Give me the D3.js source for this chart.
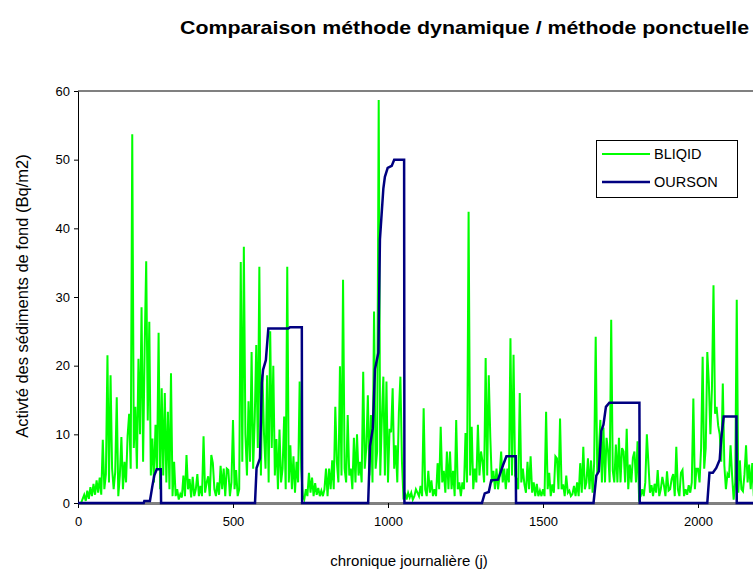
<!DOCTYPE html>
<html>
<head>
<meta charset="utf-8">
<script src="https://cdn.jsdelivr.net/npm/d3@7"></script>
<style>
  html, body { margin: 0; padding: 0; background: #fff; overflow: hidden; }
  text { font-family: "Liberation Sans", Arial, sans-serif; }
</style>
</head>
<body>
<svg id="chart" width="753" height="570"></svg>
<script>
// ---------- data ----------
const titleText = "Comparaison méthode dynamique / méthode ponctuelle";
const xTitle = "chronique journalière (j)";
const yTitle = "Activté des sédiments de fond (Bq/m2)";
const seriesNames = ["BLIQID", "OURSON"];
const xTicks = [0, 500, 1000, 1500, 2000];
const yTicks = [0, 10, 20, 30, 40, 50, 60];

// BLIQID: one value every 5 days
const bliqidStep = 5;
const bliqidValues = [
  0, 0, 0, 0.6, 1.2, 0.3, 1.8, 0.6, 2.3, 1.0,
  2.8, 1.2, 3.3, 1.5, 3.7, 1.2, 9.2, 2.0, 4.2, 21.5,
  3.0, 18.6, 5.0, 2.0, 4.5, 15.4, 1.0, 4.0, 9.6, 2.0,
  6.0, 3.0, 9.8, 13.0, 5.0, 53.7, 8.0, 14.0, 5.0, 21.0,
  10.0, 28.5, 6.0, 22.5, 35.2, 12.0, 26.4, 4.0, 9.4, 3.0,
  11.4, 5.0, 24.8, 2.0, 16.7, 4.0, 16.0, 3.0, 13.3, 2.0,
  18.9, 1.0, 6.0, 1.0, 2.0, 0.5, 1.3, 0.8, 4.0, 1.0,
  7.0, 2.0, 3.5, 0.8, 3.8, 1.0, 2.0, 4.2, 1.0, 2.5,
  1.0, 9.7, 1.5, 3.0, 3.9, 1.0, 7.0, 5.8, 2.0, 1.0,
  3.0, 1.2, 5.4, 2.0, 5.0, 1.0, 5.0, 4.8, 1.0, 3.0,
  12.1, 2.0, 4.8, 1.0, 2.0, 35.1, 6.0, 37.3, 10.0, 4.0,
  14.8, 6.0, 22.0, 5.0, 12.0, 23.0, 8.0, 34.4, 4.0, 18.7,
  10.0, 5.0, 18.6, 3.0, 25.0, 8.0, 20.0, 4.0, 9.3, 2.0,
  10.7, 3.0, 5.0, 12.6, 2.0, 34.4, 3.0, 8.4, 2.0, 6.8,
  1.5, 6.0, 3.0, 17.7, 5.0, 1.0, 0.5, 2.0, 1.0, 4.4,
  1.5, 3.7, 1.0, 2.9, 1.2, 2.2, 1.0, 1.8, 1.0, 2.0,
  5.0, 1.0, 5.0, 2.0, 6.2, 2.0, 14.0, 6.0, 3.0, 19.9,
  4.0, 32.5, 5.0, 3.0, 12.8, 4.0, 5.0, 2.0, 9.5, 3.0,
  10.0, 4.0, 6.0, 3.0, 19.1, 5.0, 8.0, 15.7, 4.0, 12.8,
  3.0, 27.9, 5.0, 7.5, 58.7, 4.0, 12.0, 18.4, 4.0, 17.7,
  3.0, 10.8, 10.3, 16.7, 5.0, 8.4, 3.0, 13.1, 18.4, 6.0,
  0.5, 1.5, 0.5, 1.5, 0.8, 1.5, 0.5, 1.0, 2.0, 1.5,
  1.0, 2.5, 1.0, 13.8, 2.0, 1.0, 4.7, 1.5, 3.3, 1.0,
  2.0, 1.0, 5.8, 2.0, 11.1, 3.0, 4.7, 1.5, 7.5, 2.0,
  7.5, 2.0, 4.7, 1.0, 12.1, 2.0, 3.0, 1.0, 3.0, 2.0,
  10.2, 3.0, 42.4, 4.0, 11.1, 2.0, 5.0, 3.0, 11.4, 4.0,
  7.5, 6.0, 3.0, 21.1, 4.0, 18.6, 9.6, 3.0, 4.7, 2.0,
  5.0, 2.0, 4.0, 7.5, 3.0, 5.0, 2.0, 5.0, 3.0, 24.0,
  4.0, 21.6, 4.0, 3.5, 2.0, 16.0, 3.0, 5.0, 2.7, 1.5,
  6.0, 2.0, 6.8, 1.5, 3.0, 1.0, 2.8, 1.0, 1.8, 1.0,
  2.0, 1.0, 13.3, 2.0, 4.4, 1.0, 2.7, 1.5, 6.8, 6.5,
  2.0, 12.3, 2.0, 2.7, 1.0, 4.0, 1.5, 1.8, 1.0, 1.3,
  2.5, 1.0, 3.0, 1.0, 5.8, 1.5, 8.2, 2.0, 3.0, 6.5,
  2.0, 6.2, 1.5, 5.8, 24.2, 4.3, 7.3, 12.1, 3.0, 11.0,
  3.0, 9.5, 7.5, 3.0, 26.7, 4.7, 3.0, 8.5, 3.0, 9.5,
  3.0, 8.0, 7.5, 3.0, 10.8, 2.0, 5.6, 3.0, 6.6, 7.5,
  3.0, 9.0, 0.6, 1.0, 2.0, 1.0, 3.0, 10.0, 5.8, 1.5,
  2.6, 1.0, 2.8, 1.5, 4.8, 1.0, 2.0, 3.8, 2.6, 1.0,
  4.6, 1.8, 2.0, 3.5, 4.2, 1.0, 8.2, 2.0, 1.0, 4.4,
  4.8, 1.0, 2.0, 1.2, 2.6, 1.5, 3.0, 15.2, 2.0, 5.0,
  5.0, 3.0, 8.0, 21.3, 5.0, 8.0, 22.0, 17.5, 10.0, 16.7,
  31.7, 13.0, 14.0, 11.3, 10.0, 6.0, 17.4, 5.5, 2.0, 4.2,
  3.7, 8.4, 4.0, 0.5, 3.0, 29.6, 1.5, 6.2, 2.0, 1.7,
  4.2, 8.4, 3.0, 5.6, 2.0, 5.8, 1.0
];
const bliqidDays = bliqidValues.map((_, i) => i * bliqidStep);

// OURSON: breakpoints (day, value)
const oursonDays = [
  0, 212, 214, 232, 240, 246, 254, 267, 268,
  571, 576, 587, 593, 597, 606, 614, 678, 684, 722, 723,
  936, 942, 951, 958, 969, 974, 985, 990, 999, 1012, 1020, 1052, 1053,
  1303, 1312, 1325, 1333, 1355, 1371, 1382, 1412, 1413,
  1663, 1672, 1680, 1688, 1695, 1703, 1714, 1811, 1812,
  2030, 2037, 2048, 2059, 2070, 2075, 2083, 2124, 2125, 2500
];
const oursonValues = [
  0, 0, 0.3, 0.3, 2.5, 4.0, 4.9, 4.9, 0,
  0, 5.1, 6.5, 17.5, 19.4, 20.8, 25.4, 25.4, 25.6, 25.6, 0,
  0, 8.3, 10.9, 19.5, 21.9, 38.4, 45.8, 47.5, 48.8, 49.1, 50, 50, 0,
  0, 1.4, 1.6, 3.3, 3.4, 5.5, 6.8, 6.8, 0,
  0, 4.0, 4.6, 10.5, 11.4, 14.0, 14.6, 14.6, 0,
  0, 4.4, 4.4, 5.1, 6.3, 9.4, 12.6, 12.6, 0, 0
];

// ---------- chart ----------
const svg = d3.select("#chart");
const x = d3.scaleLinear().domain([0, 2500]).range([78, 853]);
const y = d3.scaleLinear().domain([0, 60]).range([503, 91]);

// plot frame top border
svg.append("line").attr("x1", 78).attr("x2", 853).attr("y1", y(60)).attr("y2", y(60))
  .attr("stroke", "#808080").attr("stroke-width", 2);

// x axis (gray, thick)
const xAxis = svg.append("g").attr("transform", `translate(0,${y(0)})`)
  .call(d3.axisBottom(x).tickValues(xTicks).tickSize(5).tickSizeOuter(0).tickFormat(d3.format("d")));
xAxis.select(".domain").attr("stroke", "#808080").attr("stroke-width", 3);
xAxis.selectAll(".tick line").attr("stroke", "#000");
xAxis.selectAll(".tick text").attr("font-size", 13).attr("fill", "#000").attr("dy", "1.15em")
  .attr("font-family", "Liberation Sans, Arial, sans-serif");

// y axis
const yAxis = svg.append("g").attr("transform", `translate(${x(0)},0)`)
  .call(d3.axisLeft(y).tickValues(yTicks).tickSize(4).tickSizeOuter(0).tickFormat(d3.format("d")));
yAxis.select(".domain").attr("stroke", "#000").attr("stroke-width", 1);
yAxis.selectAll(".tick text").attr("font-size", 13).attr("fill", "#000").attr("x", -8)
  .attr("font-family", "Liberation Sans, Arial, sans-serif");

// series
const greenLine = d3.line().x((d, i) => x(bliqidDays[i])).y(d => y(d));
svg.append("path").datum(bliqidValues).attr("d", greenLine)
  .attr("fill", "none").attr("stroke", "#00ff00").attr("stroke-width", 2);

const blueLine = d3.line().x((d, i) => x(oursonDays[i])).y(d => y(d));
svg.append("path").datum(oursonValues).attr("d", blueLine)
  .attr("fill", "none").attr("stroke", "#000080").attr("stroke-width", 2.5);

// legend
const lg = svg.append("g");
lg.append("rect").attr("x", 596.5).attr("y", 140.5).attr("width", 141).attr("height", 57)
  .attr("fill", "#fff").attr("stroke", "#000").attr("stroke-width", 1);
const legendColors = ["#00ff00", "#000080"];
seriesNames.forEach((name, i) => {
  const yy = 154 + i * 28;
  lg.append("line").attr("x1", 602).attr("x2", 650).attr("y1", yy).attr("y2", yy)
    .attr("stroke", legendColors[i]).attr("stroke-width", i === 0 ? 2 : 2.5);
  lg.append("text").attr("x", 654).attr("y", yy).attr("dy", "0.36em")
    .attr("font-size", 14.5).attr("fill", "#000").text(name);
});

// titles
svg.append("text").attr("x", 180).attr("y", 34)
  .attr("textLength", 569).attr("lengthAdjust", "spacingAndGlyphs")
  .attr("font-size", 18.5).attr("font-weight", "bold").attr("fill", "#000").text(titleText);
svg.append("text").attr("x", 409).attr("y", 566).attr("text-anchor", "middle")
  .attr("font-size", 15).attr("fill", "#000").text(xTitle);
svg.append("text").attr("transform", "translate(28,296) rotate(-90)").attr("text-anchor", "middle")
  .attr("font-size", 16.5).attr("fill", "#000").text(yTitle);
</script>
</body>
</html>
